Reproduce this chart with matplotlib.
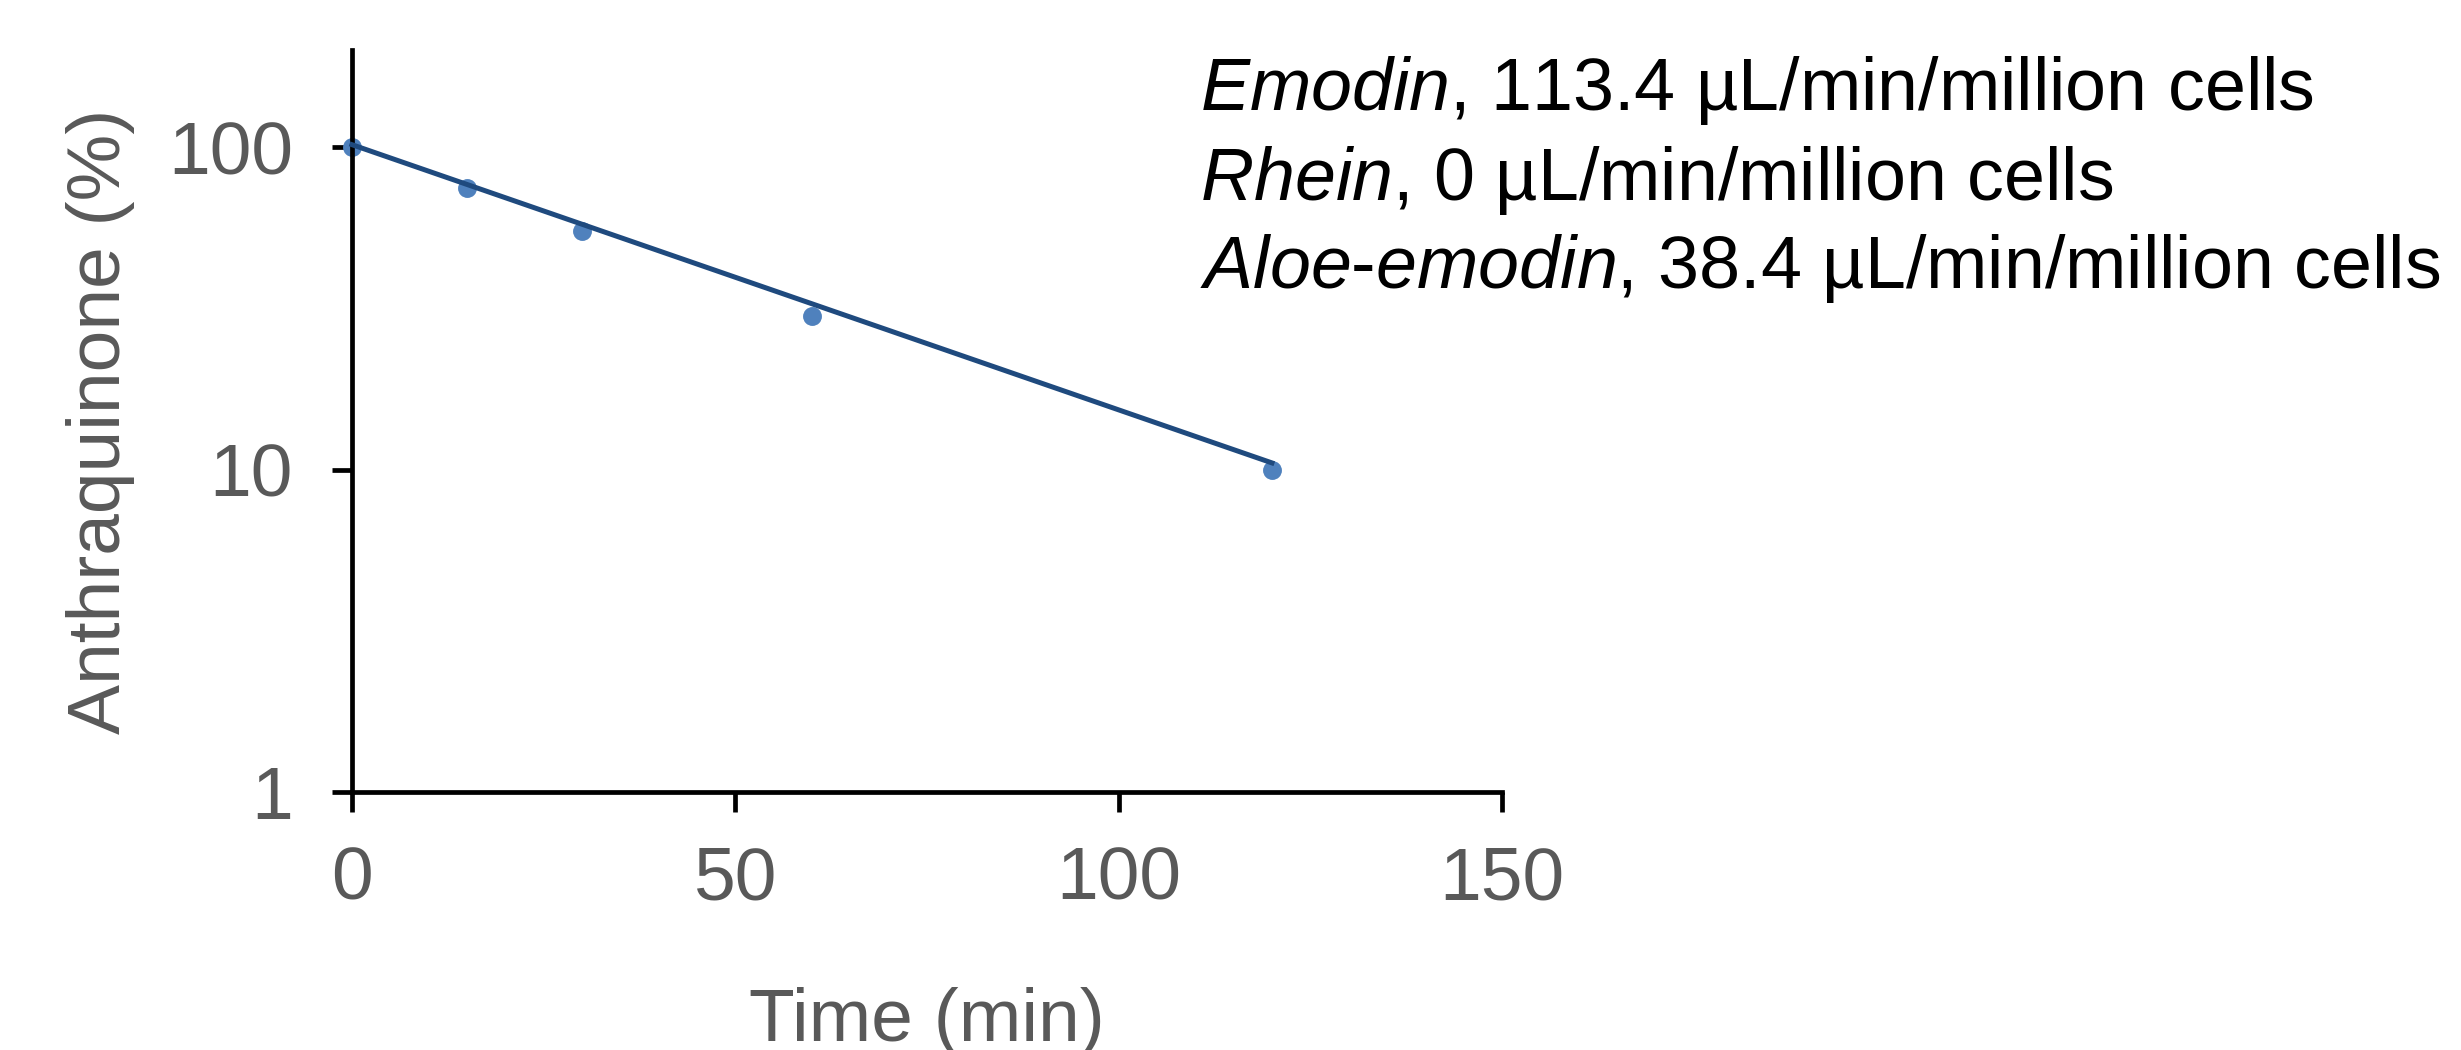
import matplotlib
matplotlib.use("Agg")
import matplotlib.pyplot as plt

# measured remaining anthraquinone (%) over time
time_min = [0, 15, 30, 60, 120]
remaining_pct = [100, 75, 55, 30, 10]

# exponential trend line at its two ends
fit_time = [0, 120]
fit_pct = [102, 10.5]

x_ticks = [0, 50, 100, 150]
y_ticks = [1, 10, 100]

# clearance annotation: compound name and value
compounds = ["Emodin", "Rhein", "Aloe-emodin"]
clearance = ["113.4", "0", "38.4"]

plt.rcParams['font.family'] = ['Liberation Sans', 'DejaVu Sans']
plt.rcParams['mathtext.fontset'] = 'custom'
plt.rcParams['mathtext.rm'] = 'Liberation Sans'
plt.rcParams['mathtext.it'] = 'Liberation Sans:italic'

grey = '#595959'

fig = plt.figure(figsize=(12.305, 5.25), dpi=200)
ax = fig.add_axes([0.143, 0.2457, 0.4673, 0.7063])

ax.scatter(time_min, remaining_pct, s=6.8**2, color='#4F81BD', zorder=2, linewidths=0, clip_on=False)
ax.plot(fit_time, fit_pct, color='#1F4A7E', lw=1.8, zorder=3, clip_on=False)

ax.set_yscale('log')
ax.set_ylim(1, 200)
ax.set_xlim(0, 150)
ax.set_xticks(x_ticks)
ax.set_xticklabels([str(t) for t in x_ticks])
ax.set_yticks(y_ticks)
ax.set_yticklabels([str(t) for t in y_ticks])
ax.minorticks_off()

for s in ['top', 'right']:
    ax.spines[s].set_visible(False)
for s in ['left', 'bottom']:
    ax.spines[s].set_linewidth(1.7)
    ax.spines[s].set_color('black')

ax.tick_params(axis='both', direction='out', length=7.2, width=1.7, color='black',
               labelsize=27, labelcolor=grey)
ax.tick_params(axis='x', pad=12)
ax.tick_params(axis='y', pad=14)

ax.set_xlabel('Time (min)', fontsize=27, color=grey, labelpad=26)
ax.set_ylabel('Anthraquinone (%)', fontsize=27, color=grey, labelpad=12)

# annotation lines, italic compound name
base_y = [110, 200, 288]
for name, val, by in zip(compounds, clearance, base_y):
    it = '-'.join(r'$\mathit{' + p + '}$' for p in name.split('-'))
    fig.text(1200 / 2461, 1 - by / 1050, it + ', ' + val + ' µL/min/million cells',
             fontsize=26.5, color='black', va='baseline', ha='left')

fig.savefig('out.png', dpi=200)
